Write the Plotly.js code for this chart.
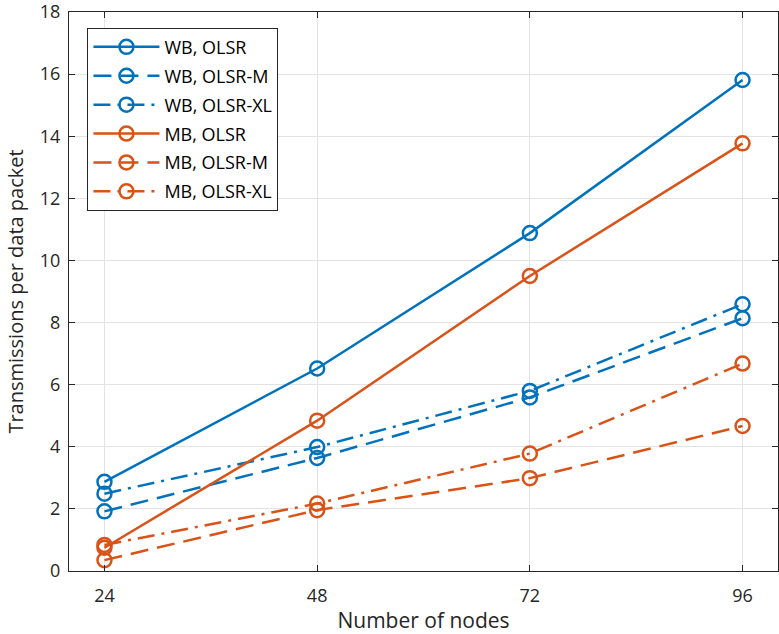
<!DOCTYPE html>
<html>
<head>
<meta charset="utf-8">
<script src="https://cdn.plot.ly/plotly-3.0.1.min.js"></script>
<style>html,body{margin:0;padding:0;background:#fff;}#chart{width:779px;height:634px;}</style>
</head>
<body>
<div id="chart"></div>
<script>
const nodes = [24, 48, 72, 96];
const seriesNames = ["WB, OLSR", "WB, OLSR-M", "WB, OLSR-XL", "MB, OLSR", "MB, OLSR-M", "MB, OLSR-XL"];
const wbOlsr   = [2.87, 6.52, 10.88, 15.81];
const wbOlsrM  = [1.92, 3.64, 5.59, 8.14];
const wbOlsrXL = [2.49, 3.99, 5.80, 8.59];
const mbOlsr   = [0.75, 4.84, 9.50, 13.77];
const mbOlsrM  = [0.35, 1.96, 2.99, 4.67];
const mbOlsrXL = [0.84, 2.17, 3.78, 6.68];
const yTicks = [0, 2, 4, 6, 8, 10, 12, 14, 16, 18];

const blue = "#0072BD", orange = "#D95319";
const dashes = ["solid", "18px,9px", "17px,7px,3px,7px"];
const allData = [wbOlsr, wbOlsrM, wbOlsrXL, mbOlsr, mbOlsrM, mbOlsrXL];
const traces = allData.map((ys, i) => ({
  x: nodes, y: ys, name: seriesNames[i], type: "scatter", mode: "lines+markers",
  legendgroup: "g" + i,
  line: {color: i < 3 ? blue : orange, width: 2.5, dash: dashes[i % 3]},
  marker: {symbol: "circle-open", size: 14, color: i < 3 ? blue : orange, line: {width: 2.5}}
}));

const fam = "Open Sans, sans-serif";
const axisCommon = {
  showline: true, linecolor: "#262626", linewidth: 1, mirror: "ticks",
  ticks: "inside", ticklen: 6, tickcolor: "#262626",
  showgrid: true, gridcolor: "#e3e3e3", gridwidth: 1, zeroline: false,
  ticklabeloverflow: "allow",
  tickfont: {family: fam, size: 18, color: "#262626"}
};

const layout = {
  width: 779, height: 634,
  margin: {l: 69, r: 1, t: 12, b: 63},
  paper_bgcolor: "#fff", plot_bgcolor: "#fff",
  showlegend: true,
  xaxis: Object.assign({}, axisCommon, {
    range: [20, 100], tickvals: nodes, ticktext: nodes.map(String),
    ticklabelstandoff: 8,
    title: {text: "Number of nodes", font: {family: fam, size: 21, color: "#262626"}, standoff: 7}
  }),
  yaxis: Object.assign({}, axisCommon, {
    range: [0, 18], tickvals: yTicks,
    ticklabelstandoff: 4,
    title: {text: "Transmissions per data packet", font: {family: fam, size: 20, color: "#262626"}, standoff: 10}
  }),
  legend: {
    x: 0.026, y: 0.972, xanchor: "left", yanchor: "top",
    bgcolor: "#fff", bordercolor: "#262626", borderwidth: 1,
    font: {family: fam, size: 18, color: "#000"},
    tracegroupgap: 2.5, itemwidth: 66
  }
};

Plotly.newPlot("chart", traces, layout, {displayModeBar: false});
</script>
</body>
</html>
